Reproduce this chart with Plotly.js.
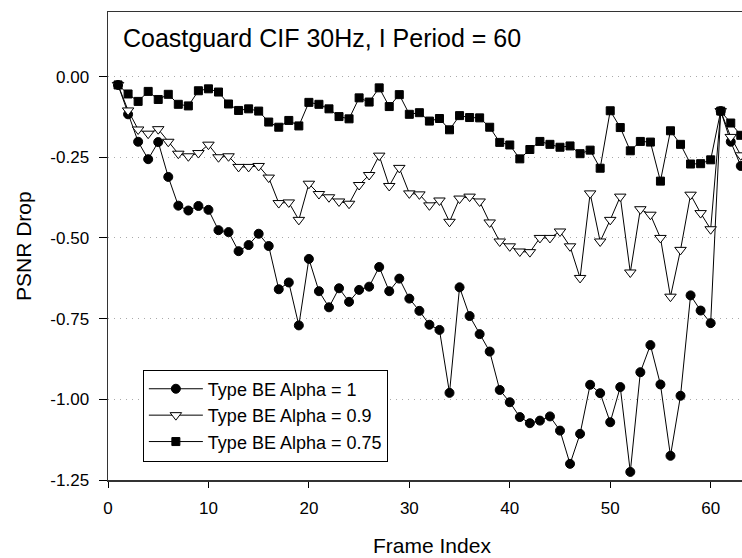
<!DOCTYPE html>
<html>
<head>
<meta charset="utf-8">
<script src="https://cdn.plot.ly/plotly-3.0.1.min.js"></script>
<style>html,body{margin:0;padding:0;background:#fff;}#chart{width:742px;height:558px;}</style>
</head>
<body>
<div id="chart"></div>
<script>
const frames = [];
for (let i = 1; i <= 63; i++) frames.push(i);

const alpha1 = [-0.026,-0.117,-0.202,-0.256,-0.203,-0.311,-0.400,-0.415,-0.401,-0.413,
  -0.476,-0.482,-0.541,-0.522,-0.487,-0.525,-0.659,-0.638,-0.771,-0.565,
  -0.665,-0.715,-0.656,-0.698,-0.661,-0.651,-0.590,-0.665,-0.626,-0.688,
  -0.726,-0.769,-0.785,-0.980,-0.653,-0.742,-0.798,-0.852,-0.971,-1.009,
  -1.055,-1.074,-1.066,-1.053,-1.097,-1.200,-1.107,-0.955,-0.981,-1.071,
  -0.962,-1.225,-0.916,-0.832,-0.954,-1.175,-0.989,-0.678,-0.725,-0.764,
  -0.107,-0.202,-0.277];

const alpha09 = [-0.026,-0.105,-0.164,-0.177,-0.163,-0.202,-0.239,-0.247,-0.237,-0.211,
  -0.250,-0.247,-0.280,-0.280,-0.277,-0.313,-0.392,-0.390,-0.444,-0.332,
  -0.364,-0.374,-0.387,-0.394,-0.336,-0.305,-0.245,-0.339,-0.283,-0.362,
  -0.365,-0.399,-0.384,-0.450,-0.378,-0.372,-0.387,-0.452,-0.511,-0.526,
  -0.542,-0.544,-0.500,-0.500,-0.480,-0.526,-0.624,-0.362,-0.511,-0.444,
  -0.372,-0.607,-0.411,-0.428,-0.500,-0.682,-0.537,-0.366,-0.423,-0.473,
  -0.107,-0.187,-0.244];

const alpha075 = [-0.026,-0.054,-0.077,-0.046,-0.071,-0.055,-0.086,-0.091,-0.044,-0.038,
  -0.048,-0.085,-0.105,-0.100,-0.107,-0.141,-0.157,-0.136,-0.153,-0.080,
  -0.086,-0.100,-0.124,-0.131,-0.066,-0.079,-0.035,-0.093,-0.056,-0.117,
  -0.112,-0.138,-0.130,-0.165,-0.121,-0.127,-0.128,-0.157,-0.204,-0.212,
  -0.255,-0.226,-0.201,-0.210,-0.219,-0.215,-0.239,-0.228,-0.284,-0.106,
  -0.158,-0.230,-0.201,-0.203,-0.324,-0.168,-0.210,-0.271,-0.270,-0.258,
  -0.107,-0.144,-0.182];

const seriesNames = ['Type BE Alpha = 1', 'Type BE Alpha = 0.9', 'Type BE Alpha = 0.75'];
const xTickVals = [0, 10, 20, 30, 40, 50, 60];
const yTickVals = [0, -0.25, -0.5, -0.75, -1.0, -1.25];
const yTickText = ['0.00', '-0.25', '-0.50', '-0.75', '-1.00', '-1.25'];
const titleText = 'Coastguard CIF 30Hz, I Period = 60';
const xTitle = 'Frame Index';
const yTitle = 'PSNR Drop';

const FONT = 'Liberation Sans, Arial, sans-serif';

const traces = [
  {x: frames, y: alpha1, name: seriesNames[0], type: 'scatter', mode: 'lines+markers',
   line: {color: '#000', width: 1},
   marker: {symbol: 'circle', size: 9, color: '#000', line: {color: '#000', width: 1}}},
  {x: frames, y: alpha09, name: seriesNames[1], type: 'scatter', mode: 'lines+markers',
   line: {color: '#000', width: 1},
   marker: {symbol: 'triangle-down', size: 10, color: '#fff', line: {color: '#000', width: 1}}},
  {x: frames, y: alpha075, name: seriesNames[2], type: 'scatter', mode: 'lines+markers',
   line: {color: '#000', width: 1},
   marker: {symbol: 'square', size: 8, color: '#000', line: {color: '#000', width: 1}}}
];

const layout = {
  width: 742, height: 558,
  margin: {l: 108, r: 0, t: 12, b: 78, pad: 0},
  paper_bgcolor: '#fff', plot_bgcolor: '#fff',
  font: {family: FONT, color: '#000'},
  showlegend: true,
  legend: {
    x: 0.055, y: 0.236, xanchor: 'left', yanchor: 'top',
    bgcolor: '#fff', bordercolor: '#000', borderwidth: 1,
    font: {family: FONT, size: 18, color: '#000'},
    itemwidth: 54
  },
  xaxis: {
    range: [0, 63.12], autorange: false,
    tickvals: xTickVals, ticktext: xTickVals.map(String),
    ticks: 'outside', ticklen: 6, tickwidth: 1, tickcolor: '#000',
    showline: true, linecolor: '#333', linewidth: 1.5, mirror: true,
    showgrid: false, zeroline: false,
    tickfont: {family: FONT, size: 17, color: '#000'},
    ticklabelstandoff: 6
  },
  yaxis: {
    range: [-1.25, 0.2], autorange: false,
    tickvals: yTickVals, ticktext: yTickText,
    ticks: 'outside', ticklen: 8, tickwidth: 1, tickcolor: '#000',
    showline: true, linecolor: '#333', linewidth: 1.5, mirror: false,
    showgrid: true, gridcolor: '#aaa', gridwidth: 1, griddash: '1px,5px',
    zeroline: false,
    tickfont: {family: FONT, size: 17, color: '#000'},
    ticklabelstandoff: 6
  },
  annotations: [
    {text: titleText, xref: 'paper', yref: 'paper', x: 0.0205, y: 0.944,
     xanchor: 'left', yanchor: 'middle', showarrow: false,
     font: {family: FONT, size: 25, color: '#000'}},
    {text: xTitle, xref: 'paper', yref: 'paper', x: 0.511, y: -0.139,
     xanchor: 'center', yanchor: 'middle', showarrow: false,
     font: {family: FONT, size: 21, color: '#000'}},
    {text: yTitle, xref: 'paper', yref: 'paper', x: -0.134, y: 0.5,
     xanchor: 'center', yanchor: 'middle', showarrow: false, textangle: -90,
     font: {family: FONT, size: 21, color: '#000'}}
  ]
};

Plotly.newPlot('chart', traces, layout, {displayModeBar: false, staticPlot: true});
</script>
</body>
</html>
